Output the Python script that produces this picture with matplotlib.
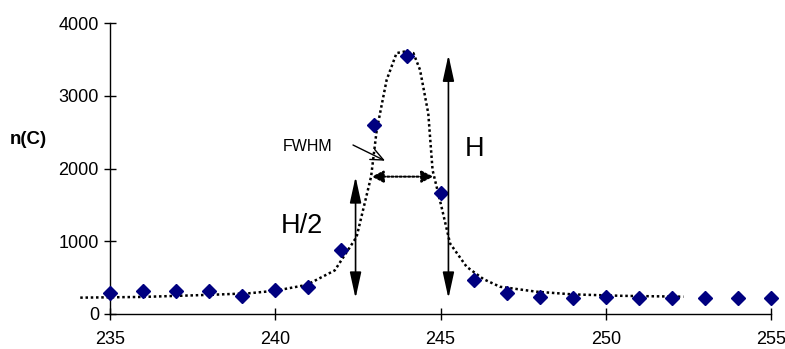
import matplotlib
matplotlib.use("Agg")
import matplotlib.pyplot as plt
from matplotlib.patches import ArrowStyle

plt.rcParams['font.family'] = ['Liberation Sans', 'DejaVu Sans']

# measured points
x_pts = [235, 236, 237, 238, 239, 240, 241, 242, 243, 244, 245,
         246, 247, 248, 249, 250, 251, 252, 253, 254, 255]
y_pts = [290, 310, 310, 310, 250, 330, 370, 880, 2600, 3550, 1660,
         470, 290, 230, 220, 230, 220, 220, 220, 220, 220]

# fitted curve
x_fit = [234.1, 236.0, 238.1, 239.2, 240.0, 240.95, 241.8, 242.46, 242.9, 243.07,
         243.37, 243.67, 243.9, 244.18, 244.38, 244.63, 244.76, 245.03, 245.29,
         245.79, 246.3, 246.8, 247.9, 249.0, 250.5, 252.35]
y_fit = [225, 235, 265, 285, 320, 400, 600, 1060, 1890, 2530,
         3220, 3590, 3610, 3590, 3360, 2760, 1980, 1475, 970,
         650, 480, 375, 307, 270, 250, 238]

x_ticks = [235, 240, 245, 250, 255]
y_ticks = [0, 1000, 2000, 3000, 4000]

fig = plt.figure(figsize=(7.85, 3.49), dpi=100)
ax = fig.add_axes([110/785, (349-314)/349, (771-110)/785, (314-23.3)/349])

ax.plot(x_fit, y_fit, color='black', lw=1.8, linestyle=(0, (1, 1.1)), clip_on=False, zorder=2)
ax.plot(x_pts, y_pts, linestyle='none', marker='D', ms=7, color='#000080', clip_on=False, zorder=3)

ax.set_xlim(235, 255)
ax.set_ylim(0, 4000)
ax.set_xticks(x_ticks)
ax.set_yticks(y_ticks)
ax.tick_params(direction='inout', length=8, width=1, labelsize=13, pad=4)
ax.tick_params(axis='x', pad=8.5)
for s in ['top', 'right']:
    ax.spines[s].set_visible(False)
for s in ['left', 'bottom']:
    ax.spines[s].set_linewidth(1)

fig.text(28/785, 1 - 140/349, 'n(C)', fontsize=13.5, fontweight='bold', ha='center', va='center')

big = ArrowStyle('<|-|>', head_length=1.6, head_width=0.35)
ax.annotate('', xy=(242.43, 1889), xytext=(242.43, 216),
            arrowprops=dict(arrowstyle=big, mutation_scale=10, color='black', lw=1.2,
                            shrinkA=0, shrinkB=0))
ax.annotate('', xy=(245.24, 3564), xytext=(245.24, 216),
            arrowprops=dict(arrowstyle=big, mutation_scale=10, color='black', lw=1.2,
                            shrinkA=0, shrinkB=0))
small = ArrowStyle('<|-|>', head_length=0.7, head_width=0.36)
ax.annotate('', xy=(242.92, 1890), xytext=(244.78, 1890),
            arrowprops=dict(arrowstyle=small, mutation_scale=10, color='black', lw=1.5,
                            linestyle=(0, (1, 1)), shrinkA=0, shrinkB=0))
ax.annotate('', xy=(235 + (385-110)/33.05, (314-160.7)/0.07268),
            xytext=(235 + (353-110)/33.05, (314-145)/0.07268),
            arrowprops=dict(arrowstyle=ArrowStyle('->', head_length=0.9, head_width=0.4),
                            mutation_scale=10, color='black', lw=1, shrinkA=0, shrinkB=0))

ax.text(235 + (302-110)/33.05, (314-226)/0.07268, 'H/2', fontsize=19.5, ha='center', va='center')
ax.text(235 + (475-110)/33.05, (314-149)/0.07268, 'H', fontsize=19.5, ha='center', va='center')
ax.text(235 + (308-110)/33.05, (314-146)/0.07268, 'FWHM', fontsize=11.5, ha='center', va='center')

fig.savefig('out.png', dpi=100)
